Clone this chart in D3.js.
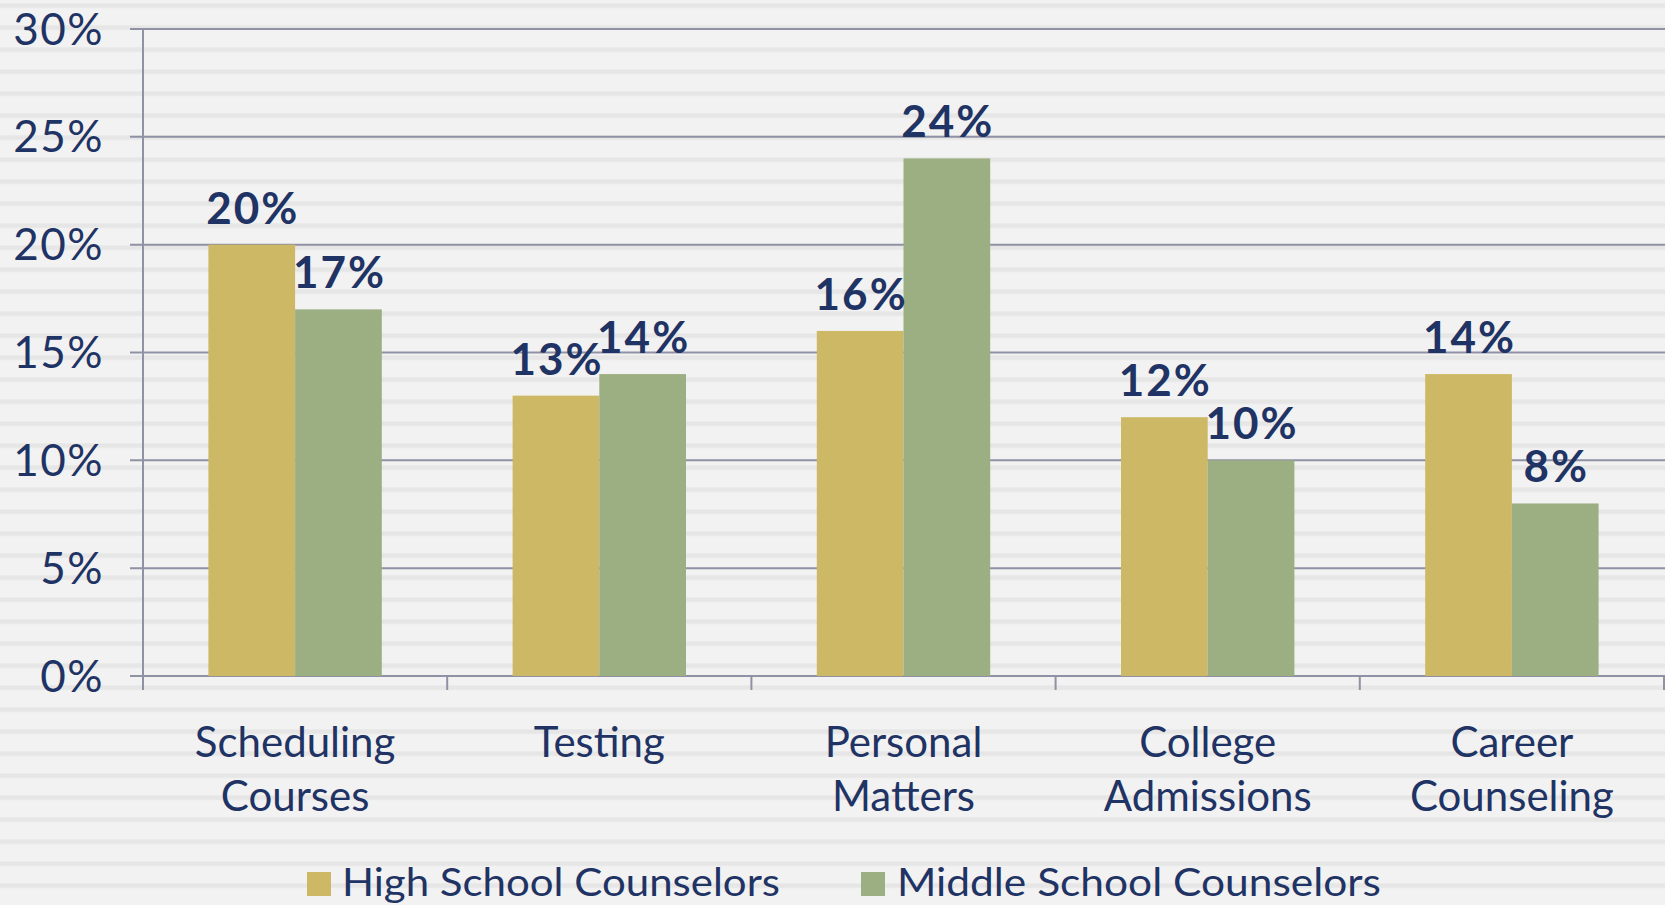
<!DOCTYPE html>
<html>
<head>
<meta charset="utf-8">
<script src="https://cdn.jsdelivr.net/npm/d3@7"></script>
<style>
  html, body { margin: 0; padding: 0; background: #f2f2f2; overflow: hidden; }
  svg { display: block; }
  text { font-family: Lato, "Open Sans", sans-serif; fill: #1f3364; }
</style>
</head>
<body>
<svg id="chart" width="1665" height="905"></svg>
<script>
const categories = [["Scheduling", "Courses"], ["Testing"], ["Personal", "Matters"], ["College", "Admissions"], ["Career", "Counseling"]];
const seriesNames = ["High School Counselors", "Middle School Counselors"];
const highSchool = [20, 13, 16, 12, 14];
const middleSchool = [17, 14, 24, 10, 8];
const yTicks = [0, 5, 10, 15, 20, 25, 30];
const colors = ["#cdb865", "#9caf82"];

const W = 1665, H = 905;
const svg = d3.select("#chart");

// striped background
const defs = svg.append("defs");
const pat = defs.append("pattern").attr("id", "stripes").attr("patternUnits", "userSpaceOnUse")
  .attr("x", 0).attr("y", 3.3).attr("width", 22).attr("height", 22);
pat.append("rect").attr("width", 22).attr("height", 22).attr("fill", "#f2f2f2");
pat.append("rect").attr("width", 22).attr("height", 4.6).attr("fill", "#e6e6e6");
svg.append("rect").attr("width", W).attr("height", H).attr("fill", "url(#stripes)");

const catKeys = categories.map(c => c.join(" "));
const x0 = d3.scaleBand().domain(catKeys).range([143, 1664]).padding(0);
const bw = x0.bandwidth();
const x1 = d3.scaleBand().domain(seriesNames).range([bw * 0.215, bw * 0.785]).padding(0);
const y = d3.scaleLinear().domain([0, 30]).range([676, 29]);

const lineColor = "#8f91a4";

// gridlines
svg.append("g").selectAll("line").data(yTicks).join("line")
  .attr("x1", 130).attr("x2", W).attr("y1", d => y(d)).attr("y2", d => y(d))
  .attr("stroke", lineColor).attr("stroke-width", 2);

// y axis line
svg.append("line").attr("x1", 143).attr("x2", 143).attr("y1", y(30)).attr("y2", 690)
  .attr("stroke", lineColor).attr("stroke-width", 2);

// category boundary ticks
const boundaries = catKeys.map(k => x0(k)).concat([x0(catKeys[catKeys.length - 1]) + bw]);
svg.append("g").selectAll("line").data(boundaries.slice(1)).join("line")
  .attr("x1", d => d).attr("x2", d => d).attr("y1", y(0)).attr("y2", 690)
  .attr("stroke", lineColor).attr("stroke-width", 2);

// y tick labels
svg.append("g").selectAll("text").data(yTicks).join("text")
  .attr("x", 104).attr("y", d => y(d) + 15.5)
  .attr("text-anchor", "end").attr("font-size", 44).attr("letter-spacing", 1.5)
  .text(d => d + "%");

// bars
const rows = catKeys.map((k, i) => ({ key: k, values: [highSchool[i], middleSchool[i]] }));
const groups = svg.append("g").selectAll("g").data(rows).join("g")
  .attr("transform", d => `translate(${x0(d.key)},0)`);

groups.selectAll("rect").data(d => d.values.map((v, j) => ({ v, s: seriesNames[j], j }))).join("rect")
  .attr("x", d => x1(d.s)).attr("width", x1.bandwidth())
  .attr("y", d => y(d.v)).attr("height", d => y(0) - y(d.v))
  .attr("fill", d => colors[d.j]);

groups.selectAll("text.val").data(d => d.values.map((v, j) => ({ v, s: seriesNames[j], j }))).join("text")
  .attr("class", "val")
  .attr("x", d => x1(d.s) + x1.bandwidth() / 2 + 1).attr("y", d => y(d.v) - 21)
  .attr("text-anchor", "middle").attr("font-size", 44).attr("font-weight", 700).attr("letter-spacing", 2)
  .text(d => d.v + "%");

// category labels
svg.append("g").selectAll("text").data(categories).join("text")
  .attr("text-anchor", "middle").attr("font-size", 42)
  .each(function (d, i) {
    const cx = x0(catKeys[i]) + bw / 2;
    d3.select(this).selectAll("tspan").data(d).join("tspan")
      .attr("x", cx).attr("y", (t, j) => 757 + j * 54).text(t => t);
  });

// legend
const legendItems = [
  { name: seriesNames[0], color: colors[0], sx: 307, tx: 342, tw: 438 },
  { name: seriesNames[1], color: colors[1], sx: 861, tx: 897, tw: 484 }
];
const lg = svg.append("g").selectAll("g").data(legendItems).join("g");
lg.append("rect").attr("x", d => d.sx).attr("y", 872).attr("width", 24).attr("height", 24).attr("fill", d => d.color);
lg.append("text").attr("x", d => d.tx).attr("y", 896).attr("font-size", 39)
  .attr("textLength", d => d.tw).attr("lengthAdjust", "spacingAndGlyphs")
  .text(d => d.name);
</script>
</body>
</html>
